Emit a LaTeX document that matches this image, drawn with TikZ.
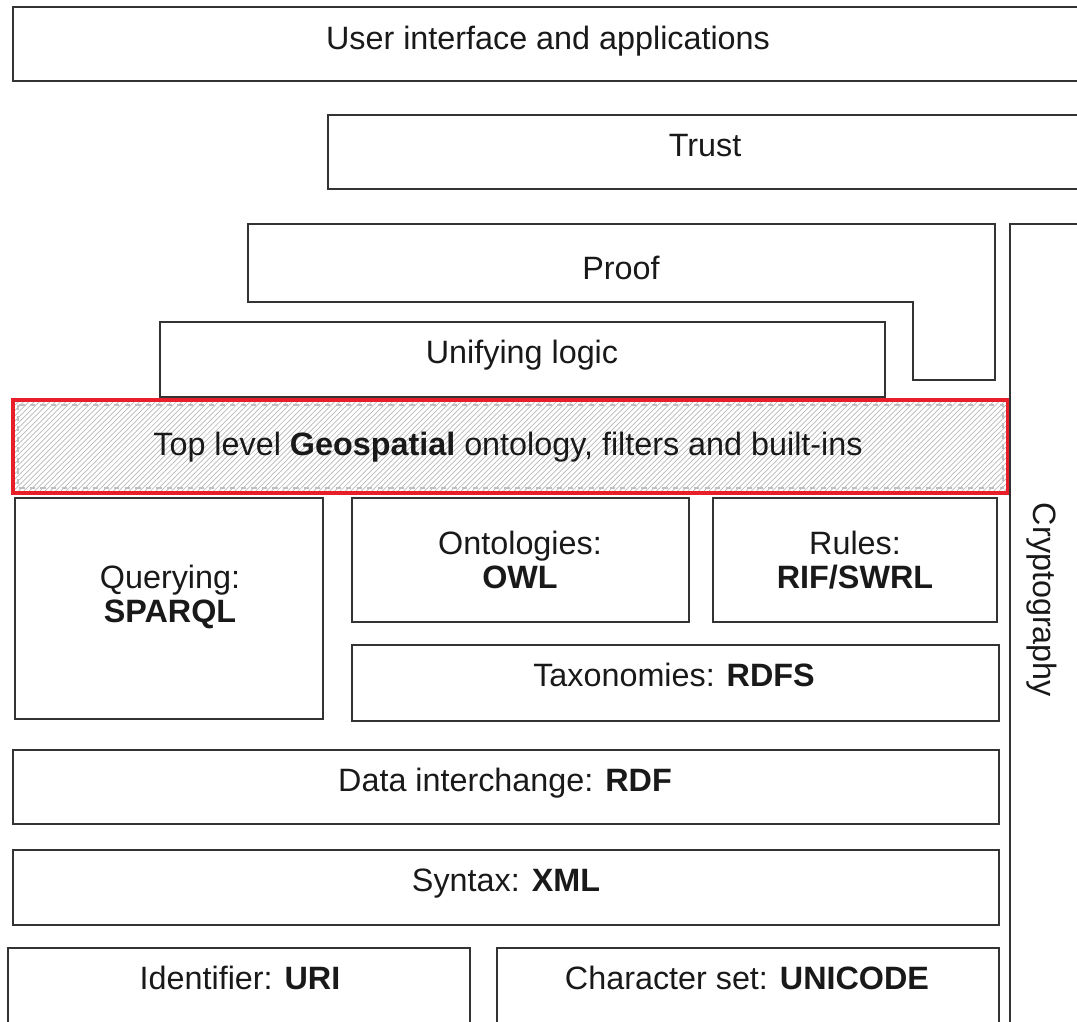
\documentclass[tikz,border=0pt]{standalone}
\usepackage{fontspec}
\setmainfont{Liberation Sans}
\usetikzlibrary{patterns}
\colorlet{layer edge}{black!80}
\definecolor{geo edge}{RGB}{232,30,40}
\tikzset{layer/.style={draw=layer edge, line width=1.1pt},
	layer text/.style={text=black!90, font=\fontsize{18.4}{19.4}\selectfont, align=center,
		text height=13.2pt, text depth=0pt, inner sep=0pt}}

\begin{document}
\begin{tikzpicture}[x=0.02cm, y=-0.02cm]
		\useasboundingbox (0,0) rectangle (1077,1021);
		\clip (0,0) rectangle (1077,1021);
		% upper layers
		\draw[layer] (13,7) rectangle (1090,81);
		\node[layer text] (ui) at (548,38) {User interface and applications};
		\draw[layer] (328,115) rectangle (1090,189);
		\node[layer text] (trust) at (705,145) {Trust};
		\draw[layer] (248,224) -- (995,224) -- (995,380) -- (913,380) -- (913,302) -- (248,302) -- cycle;
		\node[layer text] (proof) at (621,268) {Proof};
		\draw[layer] (160,322) rectangle (885,397);
		\node[layer text] (logic) at (522,352) {Unifying logic};
		
		% geospatial layer
		\fill[pattern=north east lines, pattern color=gray!55] (13,400) rectangle (1008,493);
		\draw[gray!50, dashed, line width=0.6pt] (18,405) rectangle (1003,488);
		\draw[draw=geo edge, line width=2.2pt] (13,400) rectangle (1008,493);
		\node[layer text] (geo) at (508,444) {Top level \textbf{Geospatial} ontology, filters and built-ins};
		
		% middle layers
		\draw[layer] (15,498) rectangle (323,719);
		\node[layer text] (query) at (170,611) {Querying:\\\textbf{SPARQL}};
		\draw[layer] (352,498) rectangle (689,622);
		\node[layer text] (onto) at (520,577) {Ontologies:\\\textbf{OWL}};
		\draw[layer] (713,498) rectangle (997,622);
		\node[layer text] (rules) at (855,577) {Rules:\\\textbf{RIF/SWRL}};
		\draw[layer] (352,645) rectangle (999,721);
		\node[layer text] (rdfs) at (674,675) {Taxonomies: \textbf{RDFS}};
		
		% lower layers
		\draw[layer] (13,750) rectangle (999,824);
		\node[layer text] (rdf) at (505,780) {Data interchange: \textbf{RDF}};
		\draw[layer] (13,850) rectangle (999,925);
		\node[layer text] (xml) at (506,880) {Syntax: \textbf{XML}};
		\draw[layer] (8,948) rectangle (470,1040);
		\node[layer text] (uri) at (240,978) {Identifier: \textbf{URI}};
		\draw[layer] (497,948) rectangle (999,1040);
		\node[layer text] (unicode) at (747,978) {Character set: \textbf{UNICODE}};
		
		% side column
		\draw[layer] (1010,224) rectangle (1090,1040);
		\node[layer text, rotate=-90] (crypto) at (1045,600) {Cryptography};
\end{tikzpicture}
\end{document}
